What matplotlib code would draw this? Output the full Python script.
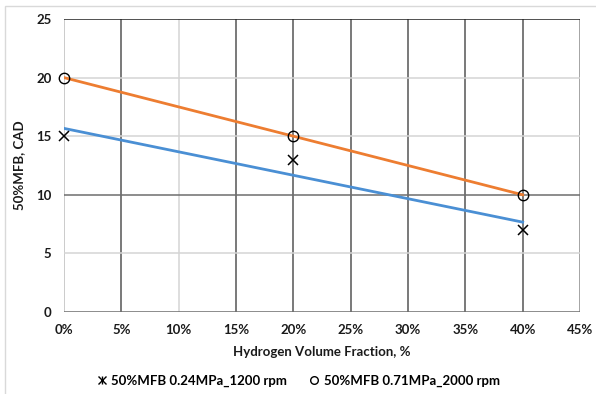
import numpy as np
import matplotlib
matplotlib.use('Agg')
import matplotlib.pyplot as plt
from matplotlib.lines import Line2D
from matplotlib.patches import Rectangle

plt.rcParams['font.family'] = ['Lato', 'DejaVu Sans']
plt.rcParams['font.weight'] = 'bold'

# ==================== 数据 ====================
h2_frac = [0, 20, 40]                 # Hydrogen volume fraction, %
mfb_low = [15, 13, 7]                 # 0.24MPa_1200 rpm
mfb_high = [20, 15, 10]               # 0.71MPa_2000 rpm
x_ticks = [0, 5, 10, 15, 20, 25, 30, 35, 40, 45]
y_ticks = [0, 5, 10, 15, 20, 25]
label_low = '50%MFB 0.24MPa_1200 rpm'
label_high = '50%MFB 0.71MPa_2000 rpm'

DARK = '#555555'
LIGHT = '#d4d4d4'
# 网格线颜色 (原图里深浅不一)
vgrid_col = {0: '#bdbdbd', 10: LIGHT, 45: '#8c8c8c'}
hgrid_col = {0: '#6e6e6e', 10: '#6e6e6e', 25: '#222222'}

fig = plt.figure(figsize=(5.96, 3.94), dpi=100)
ax = fig.add_axes([64 / 596, 1 - 312 / 394, 516 / 596, 293 / 394])

# 外框
fig.patches.append(Rectangle((5 / 596, -0.5), 2, 1 - 6 / 394 + 0.5,
                             transform=fig.transFigure, fill=False,
                             edgecolor='#d9d9d9', linewidth=1.0))

for v in x_ticks:
    ax.axvline(v, color=vgrid_col.get(v, DARK), linewidth=1.1, zorder=1)
for v in y_ticks:
    ax.axhline(v, color=hgrid_col.get(v, LIGHT), linewidth=1.1, zorder=1)

# 趋势线 (线性拟合)
for y, c in ((mfb_low, '#4a8fd4'), (mfb_high, '#ed7d31')):
    k, b = np.polyfit(h2_frac, y, 1)
    xs = np.array([h2_frac[0], h2_frac[-1]])
    ax.plot(xs, k * xs + b, color=c, linewidth=2.0, zorder=2)

ax.plot(h2_frac, mfb_low, linestyle='none', marker='x', markersize=7.5,
        markeredgewidth=1.1, color='black', zorder=3, clip_on=False)
ax.plot(h2_frac, mfb_high, linestyle='none', marker='o', markersize=7.5,
        markerfacecolor='none', markeredgewidth=1.0, color='black', zorder=3,
        clip_on=False)

ax.set_xlim(0, 45)
ax.set_ylim(0, 25)
ax.set_xticks(x_ticks)
ax.set_xticklabels([f'{v}%' for v in x_ticks])
ax.set_yticks(y_ticks)
for s in ax.spines.values():
    s.set_visible(False)
ax.tick_params(length=0, labelsize=9.5, labelcolor='#1a1a1a')
ax.tick_params(axis='x', pad=9)
ax.tick_params(axis='y', pad=9)
for t in ax.get_xticklabels() + ax.get_yticklabels():
    t.set_fontweight('bold')

ax.set_xlabel('Hydrogen Volume Fraction, %', fontsize=9.5, fontweight='bold',
              labelpad=7, color='#1a1a1a')
ax.set_ylabel('50%MFB, CAD', fontsize=9.5, fontweight='bold',
              labelpad=8, color='#1a1a1a')

h1 = (Line2D([], [], linestyle='none', marker='x', markersize=6, color='black', markeredgewidth=1.0),
      Line2D([], [], linestyle='none', marker='|', markersize=6, color='black', markeredgewidth=1.0))
h2 = Line2D([], [], linestyle='none', marker='o', markersize=5.5,
            markerfacecolor='none', color='black', markeredgewidth=1.0)
fig.legend([h1, h2], [label_low, label_high], loc='center',
           bbox_to_anchor=(0.5, 1 - 381 / 394), ncol=2, frameon=False,
           prop={'size': 9.5, 'weight': 'bold'}, handlelength=0.8,
           handletextpad=0.3, columnspacing=1.7)

fig.savefig('out.png', dpi=100)
